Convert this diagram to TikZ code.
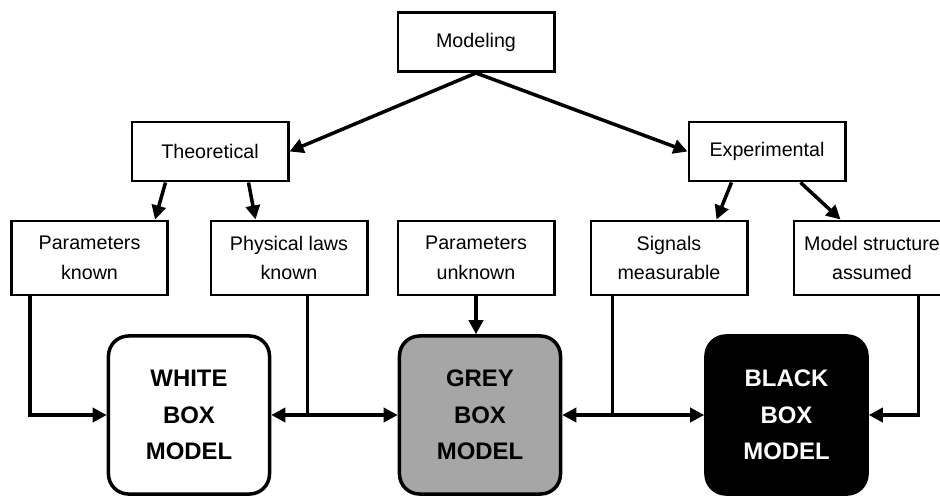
\documentclass[tikz,border=0pt]{standalone}
\usepackage{fontspec}
\setmainfont{Liberation Sans}
\usepackage{tikz}
\usetikzlibrary{arrows.meta, positioning, calc}
\definecolor{boxgrey}{RGB}{166,166,166}
\tikzset{
		plain box/.style={draw, line width=2.1pt, minimum width=3.9cm, minimum height=1.475cm, inner sep=0pt, align=center, font=\fontsize{14}{21}\selectfont},
		cond box/.style={plain box, minimum height=1.85cm},
		model box/.style={draw, line width=2.5pt, rounded corners=0.5cm, minimum width=4.025cm, minimum height=3.95cm, inner sep=0pt, align=center, font=\bfseries\fontsize{17}{26}\selectfont},
		link/.style={line width=2.5pt, -{Triangle[length=10pt,width=10pt]}},
		feed/.style={line width=2.5pt}
	}
\begin{document}
\begin{tikzpicture}[x=0.025cm, y=-0.025cm]
				\clip (0,0) rectangle (940,496);
				\node[plain box] (model) at (476,42)    {Modeling};
				\node[plain box] (theo)  at (210,151.5) {Theoretical};
				\node[plain box] (exp)   at (767,151.5) {Experimental};
				
				\node[cond box] (pk)  at (89.5,258) {Parameters\\known};
				\node[cond box] (pl)  at (289,258)  {Physical laws\\known};
				\node[cond box] (pu)  at (476,258)  {Parameters\\unknown};
				\node[cond box] (sig) at (669,258)  {Signals\\measurable};
				\node[cond box] (ms)  at (872,258)  {Model structure\\assumed};
				
				\node[model box]                                  (white) at (189,415)   {WHITE\\BOX\\MODEL};
				\node[model box, fill=boxgrey]                    (grey)  at (480,415)   {GREY\\BOX\\MODEL};
				\node[model box, fill=black, text=white]          (black) at (786.5,415) {BLACK\\BOX\\MODEL};
				
				\draw[link] (model.south) -- (theo.east);
				\draw[link] (model.south) -- (exp.west);
				\draw[link] ($(theo.south west)+(35,0)$)  -- ($(pk.north east)+(-14,0)$);
				\draw[link] ($(theo.south west)+(118,0)$) -- ($(pl.north west)+(46,0)$);
				\draw[link] ($(exp.south west)+(44,0)$)   -- ($(sig.north east)+(-32,0)$);
				\draw[link] ($(exp.south west)+(113,0)$)  -- ($(ms.north west)+(48,0)$);
				
				\draw[link] ($(pk.south west)+(20,0)$) |- (white.west);
				\path ($(pl.south west)+(98,0)$) coordinate (pltop);
				\coordinate (pljoin) at (pltop |- white.west);
				\draw[feed] (pltop) -- (pljoin);
				\draw[link] (pljoin) -- (white.east);
				\draw[link] (pljoin) -- (grey.west);
				\draw[link] (pu.south) -- (pu.south |- grey.north);
				\path ($(sig.south west)+(23,0)$) coordinate (sigtop);
				\coordinate (sigjoin) at (sigtop |- grey.east);
				\draw[feed] (sigtop) -- (sigjoin);
				\draw[link] (sigjoin) -- (grey.east);
				\draw[link] (sigjoin) -- (black.west);
				\draw[link] ($(ms.south west)+(126,0)$) |- (black.east);
			\end{tikzpicture}
\end{document}
